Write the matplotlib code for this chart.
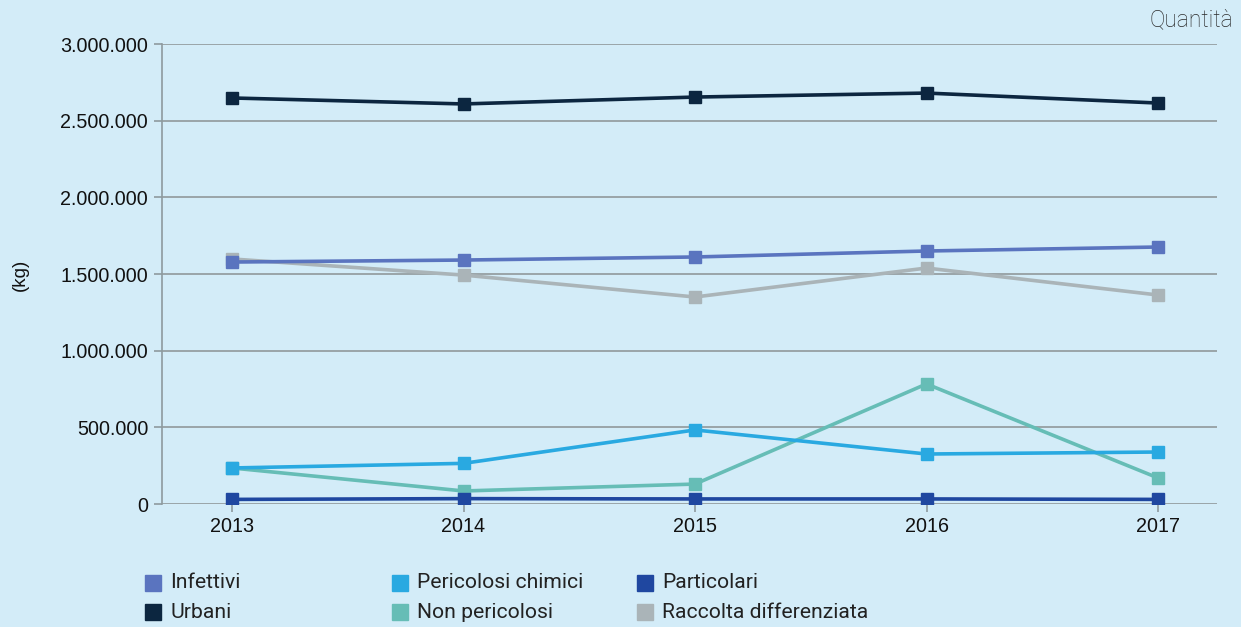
## Quantità rifiuti per tipologia

from matplotlib import pyplot as plt
from matplotlib.lines import Line2D
from matplotlib.ticker import FuncFormatter

# Data (kg)
years = [2013, 2014, 2015, 2016, 2017]
infettivi = [1578000, 1591000, 1611000, 1650000, 1676000]
pericolosi_chimici = [235000, 265000, 483000, 326000, 339000]
particolari = [30000, 35000, 33000, 33000, 30000]
urbani = [2648000, 2609000, 2654000, 2680000, 2615000]
non_pericolosi = [235000, 85000, 130000, 783000, 170000]
raccolta = [1598000, 1493000, 1350000, 1539000, 1363000]

names = ['Infettivi', 'Pericolosi chimici', 'Particolari',
         'Urbani', 'Non pericolosi', 'Raccolta differenziata']
series = [infettivi, pericolosi_chimici, particolari,
          urbani, non_pericolosi, raccolta]
colors = ['#5a74bf', '#29a9e1', '#1f47a0', '#0c2640', '#66bdb6', '#aab4b8']
# drawing order (back to front)
order = [5, 0, 4, 1, 2, 3]

bg = '#d3ecf8'
fig = plt.figure(figsize=(12.41, 6.27), dpi=100, facecolor=bg)
ax = fig.add_axes([162/1241, 1 - 504/627, (1217-162)/1241, (504-44)/627])
ax.set_facecolor(bg)

for i in order:
    ax.plot(years, series[i], color=colors[i], linewidth=2.6,
            marker='s', markersize=8.5, zorder=3)

ax.set_ylim(0, 3000000)
ax.set_xlim(2013 - 70/231.5, 2017 + 59/231.5)
ax.set_yticks(range(0, 3000001, 500000))
ax.set_xticks(years)
ax.yaxis.set_major_formatter(FuncFormatter(lambda v, p: '{:,.0f}'.format(v).replace(',', '.')))
ax.grid(axis='y', color='#9aa5a8', linewidth=1.4)
ax.set_axisbelow(True)
for s in ['top', 'right', 'bottom']:
    ax.spines[s].set_visible(False)
ax.spines['left'].set_color('#8e9a9e')
ax.spines['left'].set_linewidth(1.2)
ax.tick_params(axis='both', colors='#8e9a9e', length=6, width=1.2,
               labelcolor='#111111', labelsize=14.2)
ax.tick_params(axis='x', pad=3)
ax.tick_params(axis='y', pad=4)
for lab in ax.get_xticklabels() + ax.get_yticklabels():
    lab.set_fontfamily('Liberation Sans')

fig.text(20/1241, 1 - 275/627, '(kg)', rotation=90, ha='center', va='center',
         fontsize=13.5, fontfamily='Liberation Sans', color='#111111')
fig.text(1233/1241, 1 - 20/627, 'Quantità', ha='right', va='center',
         fontsize=16.5, fontfamily='Roboto', fontweight='light', color='#2a2a2a')

# Legend
col_x = [153, 400, 645]
row_y = [583, 612]
for k, name in enumerate(names):
    cx = col_x[k % 3]
    cy = row_y[k // 3]
    fig.add_artist(Line2D([cx/1241], [1 - cy/627], marker='s', markersize=11,
                          color=colors[k], linestyle='none',
                          transform=fig.transFigure))
    fig.text((cx + 17)/1241, 1 - cy/627, name, ha='left', va='center',
             fontsize=15.2, fontfamily='Roboto', color='#222222')

plt.savefig('out.png', dpi=100, facecolor=bg)
